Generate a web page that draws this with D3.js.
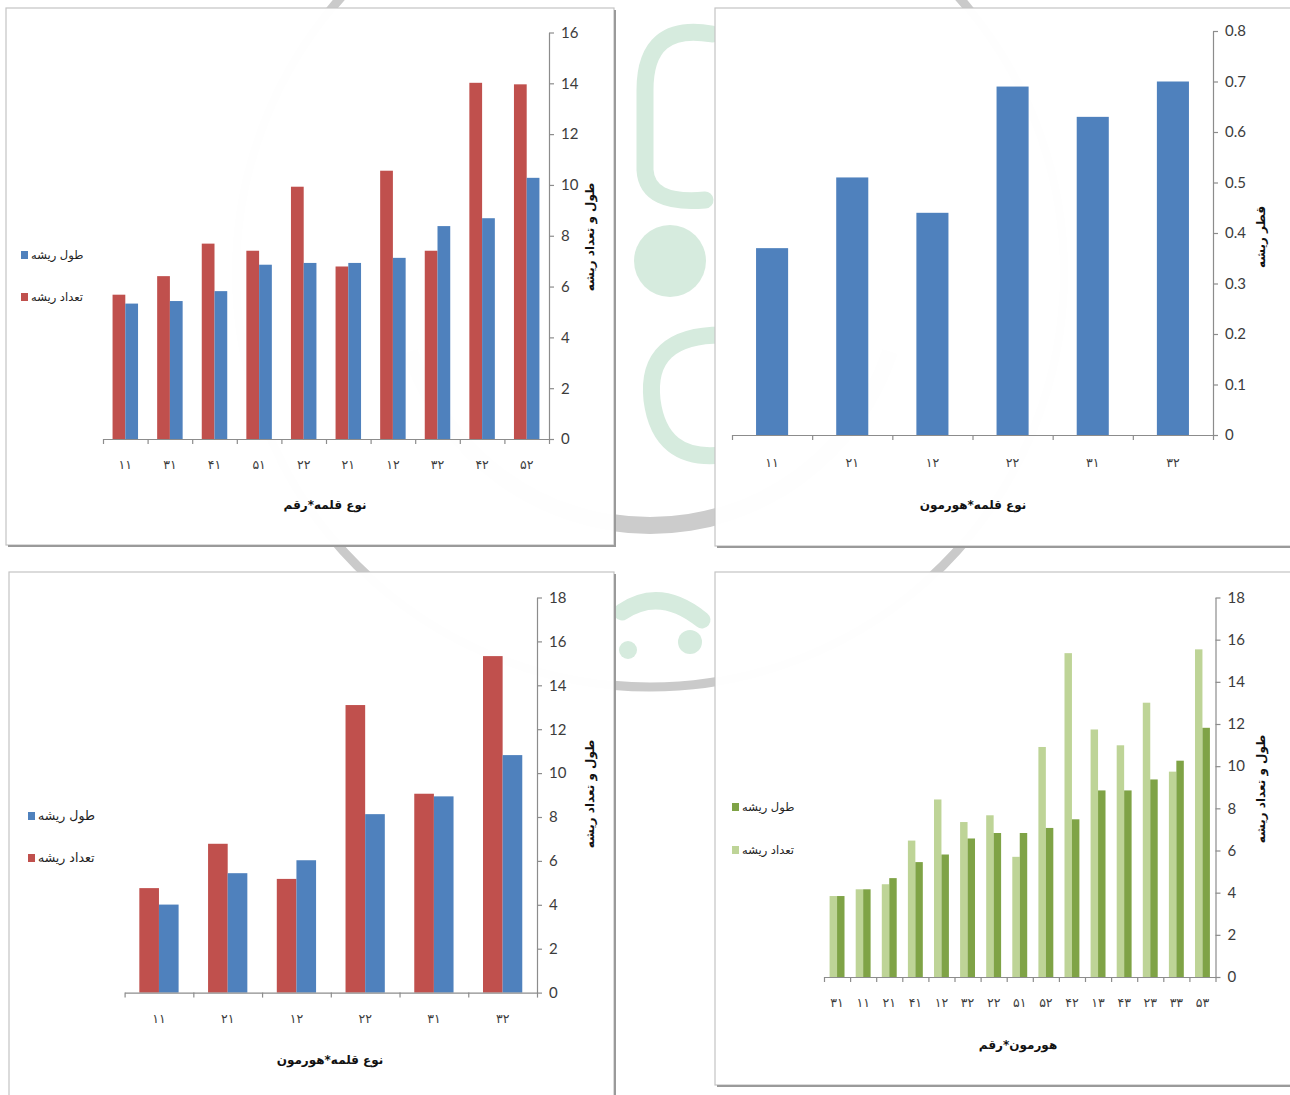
<!DOCTYPE html>
<html><head><meta charset="utf-8">
<script src="https://cdn.jsdelivr.net/npm/d3@7/dist/d3.min.js"></script>
<style>body{margin:0;background:#fff;} svg{display:block;}</style>
</head><body>
<svg id="chart" width="1290" height="1095"></svg>
<script>
// ---------- DATA ----------
const seriesNames = ['طول ریشه', 'تعداد ریشه'];

const p1Categories = ['۱۱','۳۱','۴۱','۵۱','۲۲','۲۱','۱۲','۳۲','۴۲','۵۲'];
const p1Count  = [5.68, 6.41, 7.69, 7.41, 9.93, 6.79, 10.56, 7.41, 14.02, 13.96];
const p1Length = [5.33, 5.43, 5.82, 6.86, 6.93, 6.93, 7.13, 8.38, 8.69, 10.28];
const p1Ticks = [0, 2, 4, 6, 8, 10, 12, 14, 16];
const p1TickLabels = ['0','2','4','6','8','10','12','14','16'];

const p2Categories = ['۱۱','۲۱','۱۲','۲۲','۳۱','۳۲'];
const p2Diameter = [0.37, 0.51, 0.44, 0.69, 0.63, 0.70];
const p2Ticks = [0, 0.1, 0.2, 0.3, 0.4, 0.5, 0.6, 0.7, 0.8];
const p2TickLabels = ['0','0.1','0.2','0.3','0.4','0.5','0.6','0.7','0.8'];

const p3Categories = ['۱۱','۲۱','۱۲','۲۲','۳۱','۳۲'];
const p3Count  = [4.76, 6.78, 5.18, 13.10, 9.06, 15.33];
const p3Length = [4.01, 5.44, 6.03, 8.13, 8.94, 10.82];
const p3Ticks = [0, 2, 4, 6, 8, 10, 12, 14, 16, 18];
const p3TickLabels = ['0','2','4','6','8','10','12','14','16','18'];

const p4Categories = ['۳۱','۱۱','۲۱','۴۱','۱۲','۳۲','۲۲','۵۱','۵۲','۴۲','۱۳','۴۳','۲۳','۳۳','۵۳'];
const p4Count  = [3.84, 4.16, 4.40, 6.47, 8.42, 7.35, 7.67, 5.70, 10.91, 15.36, 11.74, 10.99, 13.01, 9.74, 15.54];
const p4Length = [3.84, 4.16, 4.69, 5.45, 5.81, 6.57, 6.83, 6.83, 7.07, 7.48, 8.85, 8.85, 9.37, 10.26, 11.82];
const p4Ticks = [0, 2, 4, 6, 8, 10, 12, 14, 16, 18];
const p4TickLabels = ['0','2','4','6','8','10','12','14','16','18'];

const xTitles = ['نوع قلمه*رقم', 'نوع قلمه*هورمون', 'نوع قلمه*هورمون', 'هورمون*رقم'];
const yTitles = ['طول و تعداد ریشه', 'قطر ریشه', 'طول و تعداد ریشه', 'طول و تعداد ریشه'];

// ---------- STYLE ----------
const RED = '#c0504d', BLUE = '#4f81bd', DKGREEN = '#7fa346', LTGREEN = '#bed497';
const AXIS = '#8c8c8c', TXT = '#3c3c3c';
const FA = '"DejaVu Sans", sans-serif';
const NUM = 'Lato, "Open Sans", sans-serif';

const svg = d3.select('#chart');

// ---------- WATERMARK ----------
const wm = svg.append('g');
const G = '#d6ebde';
wm.append('circle').attr('cx', 650).attr('cy', 273).attr('r', 414)
  .attr('fill', 'none').attr('stroke', '#cacaca').attr('stroke-width', 9);
wm.append('path').attr('transform', 'translate(650,273)')
  .attr('d', d3.arc()({innerRadius: 244, outerRadius: 261, startAngle: Math.PI * 0.6, endAngle: Math.PI * 1.4}))
  .attr('fill', '#cccccc');
wm.append('circle').attr('cx', 670).attr('cy', 261).attr('r', 36).attr('fill', G);
const gpaths = [
  'M712 34 Q645 22 645 90 L645 170 Q647 205 705 200',
  'M765 40 Q812 150 768 290',
  'M722 335 Q645 335 652 400 Q660 462 722 455',
  'M622 612 Q660 586 702 620'
];
wm.selectAll('path.g').data(gpaths).join('path').attr('class', 'g')
  .attr('d', d => d).attr('fill', 'none').attr('stroke', G)
  .attr('stroke-width', 17).attr('stroke-linecap', 'round');
wm.append('circle').attr('cx', 690).attr('cy', 642).attr('r', 12).attr('fill', G);
wm.append('circle').attr('cx', 628).attr('cy', 650).attr('r', 9).attr('fill', G);

// ---------- PANEL ----------
function drawPanel(cfg) {
  const g = svg.append('g');
  const [rx, ry, rw, rh] = cfg.rect;
  g.append('rect').attr('x', rx).attr('y', ry).attr('width', rw).attr('height', rh)
    .attr('fill', '#fff').attr('fill-opacity', 0.985).attr('stroke', '#c4c4c4').attr('stroke-width', 1.2);
  g.append('line').attr('x1', rx + rw + 1).attr('x2', rx + rw + 1).attr('y1', ry + 2).attr('y2', ry + rh + 2)
    .attr('stroke', '#9a9a9a').attr('stroke-width', 2);
  g.append('line').attr('x1', rx + 2).attr('x2', rx + rw + 2).attr('y1', ry + rh + 1).attr('y2', ry + rh + 1)
    .attr('stroke', '#9a9a9a').attr('stroke-width', 2);

  const n = cfg.categories.length, k = cfg.series.length, gap = 1.5;
  const xb = d3.scaleBand().domain(d3.range(n)).range([cfg.x0, cfg.x1])
    .paddingInner(gap / (k + gap)).paddingOuter(gap / (2 * (k + gap)));
  const xs = d3.scaleBand().domain(d3.range(k)).range([0, xb.bandwidth()]);
  const y = d3.scaleLinear().domain([0, cfg.yMax]).range([cfg.y0, cfg.yTop]);

  cfg.series.forEach((s, si) => {
    g.append('g').selectAll('rect').data(s.values).join('rect')
      .attr('x', (d, i) => xb(i) + xs(si))
      .attr('y', d => y(d))
      .attr('width', xs.bandwidth())
      .attr('height', d => y(0) - y(d))
      .attr('fill', s.color);
  });

  // x axis line with boundary ticks
  const xl = d3.scaleLinear().domain([0, n]).range([cfg.x0, cfg.x1]);
  const xa = g.append('g').attr('transform', `translate(0,${cfg.y0})`)
    .call(d3.axisBottom(xl).tickValues(d3.range(n + 1)).tickFormat('').tickSize(5).tickSizeOuter(0));
  xa.selectAll('path,line').attr('stroke', AXIS).attr('stroke-width', 1.2);

  // category labels
  const xc = g.append('g').attr('transform', `translate(0,${cfg.y0})`)
    .call(d3.axisBottom(xb).tickFormat(i => cfg.categories[i]).tickSize(0).tickPadding(cfg.labelPad));
  xc.select('.domain').remove();
  xc.selectAll('text').attr('font-family', FA).attr('font-size', 12.5).attr('fill', TXT);

  // y axis at right
  const ya = g.append('g').attr('transform', `translate(${cfg.x1},0)`)
    .call(d3.axisRight(y).tickValues(cfg.ticks).tickFormat((d, i) => cfg.tickLabels[i])
      .tickSize(5).tickPadding(7).tickSizeOuter(0));
  ya.selectAll('path,line').attr('stroke', AXIS).attr('stroke-width', 1.2);
  ya.selectAll('text').attr('font-family', NUM).attr('font-size', 15).attr('fill', TXT);

  // titles
  g.append('text').attr('x', cfg.xTitlePos[0]).attr('y', cfg.xTitlePos[1])
    .attr('text-anchor', 'middle').attr('dominant-baseline', 'middle')
    .attr('font-family', FA).attr('font-weight', 'bold').attr('font-size', 12).attr('fill', '#111')
    .text(cfg.xTitle);
  g.append('text').attr('transform', `translate(${cfg.yTitlePos[0]},${cfg.yTitlePos[1]}) rotate(-90)`)
    .attr('text-anchor', 'middle').attr('dominant-baseline', 'middle')
    .attr('font-family', FA).attr('font-weight', 'bold').attr('font-size', 12).attr('fill', '#111')
    .text(cfg.yTitle);

  // legend
  if (cfg.legend) {
    const lg = g.append('g').selectAll('g').data(cfg.legend).join('g')
      .attr('transform', (d, i) => `translate(${cfg.legendX},${cfg.legendY[i]})`);
    lg.append('rect').attr('x', 0).attr('y', -4).attr('width', 7).attr('height', 8).attr('fill', d => d.color);
    lg.append('text').attr('x', 10).attr('y', 0).attr('dominant-baseline', 'middle')
      .attr('font-family', FA).attr('font-size', cfg.legendSize).attr('fill', '#222')
      .text(d => d.label);
  }
}

drawPanel({
  rect: [6, 8, 608, 537],
  x0: 103, x1: 549, y0: 439, yTop: 32.5, yMax: 16,
  categories: p1Categories,
  series: [{values: p1Count, color: RED}, {values: p1Length, color: BLUE}],
  ticks: p1Ticks, tickLabels: p1TickLabels, labelPad: 21,
  xTitle: xTitles[0], xTitlePos: [325, 505],
  yTitle: yTitles[0], yTitlePos: [590, 237],
  legend: [{label: seriesNames[0], color: BLUE}, {label: seriesNames[1], color: RED}],
  legendX: 21, legendY: [255, 297], legendSize: 11.5
});

drawPanel({
  rect: [715, 8, 590, 538],
  x0: 732, x1: 1213, y0: 435, yTop: 31, yMax: 0.8,
  categories: p2Categories,
  series: [{values: p2Diameter, color: BLUE}],
  ticks: p2Ticks, tickLabels: p2TickLabels, labelPad: 23,
  xTitle: xTitles[1], xTitlePos: [973, 505],
  yTitle: yTitles[1], yTitlePos: [1261, 237],
  legend: null
});

drawPanel({
  rect: [9, 572, 605, 540],
  x0: 124.6, x1: 537, y0: 992.6, yTop: 597.5, yMax: 18,
  categories: p3Categories,
  series: [{values: p3Count, color: RED}, {values: p3Length, color: BLUE}],
  ticks: p3Ticks, tickLabels: p3TickLabels, labelPad: 22,
  xTitle: xTitles[2], xTitlePos: [330, 1060],
  yTitle: yTitles[2], yTitlePos: [590, 794],
  legend: [{label: seriesNames[0], color: BLUE}, {label: seriesNames[1], color: RED}],
  legendX: 28, legendY: [816, 858], legendSize: 12.5
});

drawPanel({
  rect: [715, 572, 590, 513],
  x0: 824, x1: 1215.5, y0: 977, yTop: 597.5, yMax: 18,
  categories: p4Categories,
  series: [{values: p4Count, color: LTGREEN}, {values: p4Length, color: DKGREEN}],
  ticks: p4Ticks, tickLabels: p4TickLabels, labelPad: 21,
  xTitle: xTitles[3], xTitlePos: [1018, 1045],
  yTitle: yTitles[3], yTitlePos: [1261, 789],
  legend: [{label: seriesNames[0], color: DKGREEN}, {label: seriesNames[1], color: LTGREEN}],
  legendX: 732, legendY: [807, 850], legendSize: 11.5
});
</script>
</body></html>
